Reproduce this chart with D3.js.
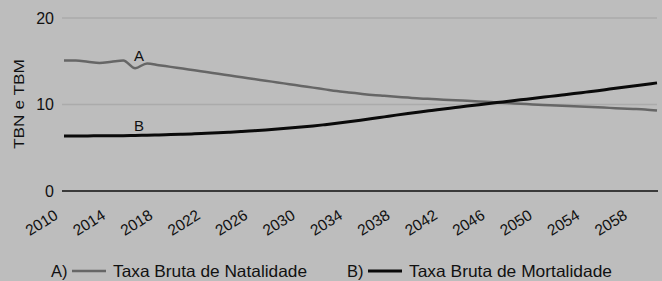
<!DOCTYPE html>
<html><head><meta charset="utf-8">
<script src="https://cdn.jsdelivr.net/npm/d3@7"></script>
<style>html,body{margin:0;padding:0;background:#bdbdbd;}svg{display:block;}</style>
</head><body>
<svg id="c" width="662" height="281"></svg>
<script>
const years = d3.range(2010, 2061);
const natalidade = [15.1,15.1,14.95,14.8,14.95,15.1,14.2,14.75,14.55,14.35,
  14.15,13.95,13.75,13.55,13.35,13.15,12.95,12.75,12.55,12.35,
  12.15,11.95,11.75,11.55,11.4,11.25,11.1,11.0,10.9,10.8,
  10.7,10.63,10.56,10.5,10.43,10.36,10.28,10.2,10.12,10.05,
  9.98,9.91,9.85,9.79,9.73,9.67,9.61,9.55,9.49,9.42,9.3];
const mortalidade = [6.35,6.36,6.37,6.38,6.39,6.4,6.42,6.45,6.48,6.52,
  6.56,6.61,6.67,6.73,6.8,6.88,6.97,7.06,7.16,7.27,
  7.39,7.52,7.67,7.83,8.0,8.18,8.37,8.57,8.77,8.96,
  9.14,9.31,9.48,9.65,9.82,9.98,10.14,10.3,10.46,10.62,
  10.78,10.94,11.1,11.26,11.43,11.6,11.78,11.96,12.14,12.32,12.5];
const xTicks = [2010,2014,2018,2022,2026,2030,2034,2038,2042,2046,2050,2054,2058];
const yTicks = [0,10,20];
const seriesNames = ["Taxa Bruta de Natalidade","Taxa Bruta de Mortalidade"];

const svg = d3.select("#c");
const font = "Liberation Sans, Arial, sans-serif";
const x = d3.scaleLinear().domain([2010,2060]).range([64,657]);
const y = d3.scaleLinear().domain([0,20]).range([191,18]);

// gridlines
svg.append("g").selectAll("line").data(yTicks.filter(d=>d>0)).join("line")
  .attr("x1",62).attr("x2",657).attr("y1",d=>y(d)).attr("y2",d=>y(d))
  .attr("stroke","#ababab").attr("stroke-width",1.5);
// zero axis
svg.append("line").attr("x1",62).attr("x2",658).attr("y1",y(0)).attr("y2",y(0))
  .attr("stroke","#3a3a3a").attr("stroke-width",2);

// y tick labels
svg.append("g").selectAll("text").data(yTicks).join("text")
  .attr("x",54).attr("y",d=>y(d)).attr("dy","0.36em").attr("text-anchor","end")
  .attr("font-family",font).attr("font-size",16).attr("fill","#111").text(d=>d);

// y title
svg.append("text").attr("transform","translate(24,104) rotate(-90)")
  .attr("text-anchor","middle").attr("font-family",font).attr("font-size",15).attr("fill","#111")
  .attr("textLength",90).attr("lengthAdjust","spacingAndGlyphs")
  .text("TBN e TBM");

// x tick labels
svg.append("g").selectAll("text").data(xTicks).join("text")
  .attr("transform",d=>`translate(${x(d)-5},${218}) rotate(-32)`)
  .attr("text-anchor","end")
  .attr("font-family",font).attr("font-size",15.5).attr("fill","#111").text(d=>d);

const line = d3.line().x((d,i)=>x(years[i])).y(d=>y(d)).curve(d3.curveMonotoneX);
svg.append("path").attr("d",line(natalidade)).attr("fill","none")
  .attr("stroke","#666").attr("stroke-width",2.5);
svg.append("path").attr("d",line(mortalidade)).attr("fill","none")
  .attr("stroke","#0a0a0a").attr("stroke-width",3);

// series labels
svg.append("text").attr("x",139).attr("y",61).attr("text-anchor","middle")
  .attr("font-family",font).attr("font-size",15).attr("fill","#111").text("A");
svg.append("text").attr("x",139).attr("y",131).attr("text-anchor","middle")
  .attr("font-family",font).attr("font-size",15).attr("fill","#111").text("B");

// legend
const legend = [{k:"A)",x:51,c:"#666",w:2.5,tl:194},{k:"B)",x:347,c:"#0a0a0a",w:3,tl:203}];
legend.forEach((l,i)=>{
  svg.append("text").attr("x",l.x).attr("y",277).attr("font-family",font).attr("font-size",16.5).attr("fill","#111").text(l.k);
  svg.append("line").attr("x1",l.x+21).attr("x2",l.x+55).attr("y1",271).attr("y2",271)
    .attr("stroke",l.c).attr("stroke-width",l.w);
  svg.append("text").attr("x",l.x+62).attr("y",277).attr("font-family",font).attr("font-size",16.5).attr("fill","#111")
    .attr("textLength",l.tl).attr("lengthAdjust","spacingAndGlyphs").text(seriesNames[i]);
});
</script>
</body></html>
